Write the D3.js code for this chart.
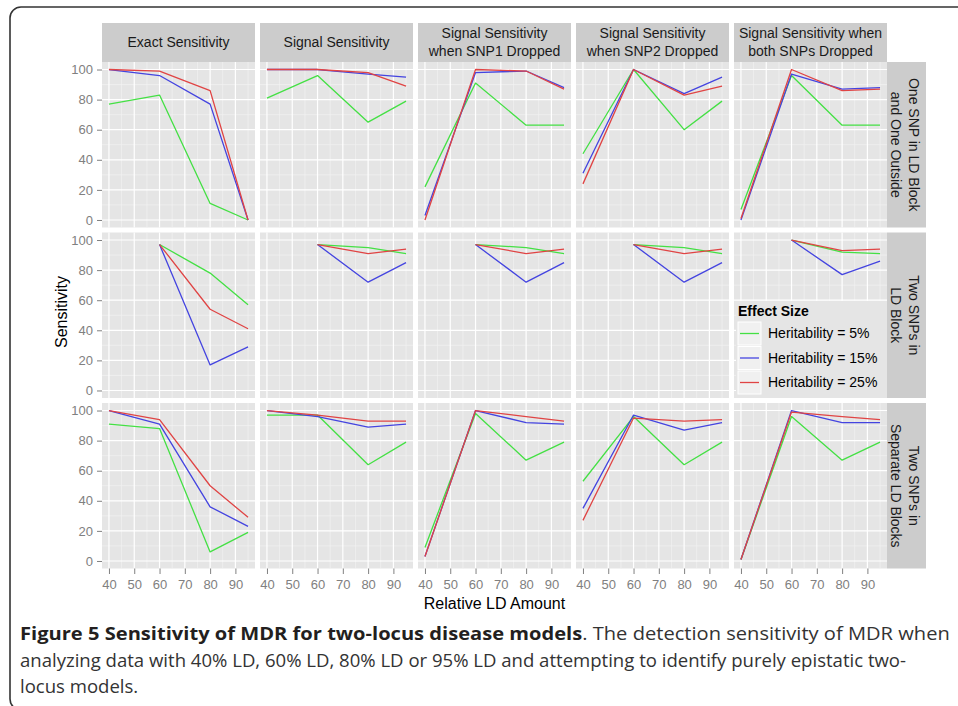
<!DOCTYPE html>
<html><head><meta charset="utf-8">
<script src="https://cdn.jsdelivr.net/npm/d3@7"></script>
<style>body{margin:0;background:#fff}svg{display:block}</style>
</head><body>
<svg id="c" width="958" height="706"></svg>
<script>
// ---------- data ----------
const ldLevels = [40, 60, 80, 95];
const xTicks = [40, 50, 60, 70, 80, 90];
const yTicks = [0, 20, 40, 60, 80, 100];
const columnLabels = ["Exact Sensitivity", "Signal Sensitivity", "Signal Sensitivity\nwhen SNP1 Dropped",
  "Signal Sensitivity\nwhen SNP2 Dropped", "Signal Sensitivity when\nboth SNPs Dropped"];
const rowLabels = ["One SNP in LD Block\nand One Outside", "Two SNPs in\nLD Block", "Two SNPs in\nSeparate LD Blocks"];
const seriesLabels = ["Heritability = 5%", "Heritability = 15%", "Heritability = 25%"];
const seriesColors = ["#44e044", "#4444e0", "#e04444"];

// Row 1: One SNP in LD Block and One Outside (one array per panel, values at 40/60/80/95)
const oneSNP_h5  = [[77, 83, 11, 0], [81, 96, 65, 79], [22, 91, 63, 63], [44, 100, 60, 79], [7, 96, 63, 63]];
const oneSNP_h15 = [[100, 96, 77, 0], [100, 100, 97, 95], [3, 98, 99, 88], [31, 100, 84, 95], [0, 97, 87, 88]];
const oneSNP_h25 = [[100, 99, 86, 0], [100, 100, 98, 89], [0, 100, 99, 87], [24, 100, 83, 89], [1, 100, 86, 87]];
// Row 2: Two SNPs in LD Block (no 40% value)
const twoLD_h5  = [[null, 97, 78, 57], [null, 97, 95, 91], [null, 97, 95, 91], [null, 97, 95, 91], [null, 100, 92, 91]];
const twoLD_h15 = [[null, 97, 17, 29], [null, 97, 72, 85], [null, 97, 72, 85], [null, 97, 72, 85], [null, 100, 77, 86]];
const twoLD_h25 = [[null, 97, 54, 41], [null, 97, 91, 94], [null, 97, 91, 94], [null, 97, 91, 94], [null, 100, 93, 94]];
// Row 3: Two SNPs in Separate LD Blocks
const twoSep_h5  = [[91, 88, 6, 19], [97, 97, 64, 79], [9, 98, 67, 79], [53, 96, 64, 79], [1, 96, 67, 79]];
const twoSep_h15 = [[100, 91, 36, 23], [100, 96, 89, 91], [3, 100, 92, 91], [35, 97, 87, 92], [1, 100, 92, 92]];
const twoSep_h25 = [[100, 94, 50, 29], [100, 97, 93, 93], [3, 100, 96, 93], [27, 95, 93, 94], [1, 99, 96, 94]];

const rowData = [[oneSNP_h5, oneSNP_h15, oneSNP_h25], [twoLD_h5, twoLD_h15, twoLD_h25], [twoSep_h5, twoSep_h15, twoSep_h25]];

const captionBold = "Figure 5 Sensitivity of MDR for two-locus disease models";
const captionLines = [". The detection sensitivity of MDR when",
  "analyzing data with 40% LD, 60% LD, 80% LD or 95% LD and attempting to identify purely epistatic two-",
  "locus models."];

// ---------- layout ----------
const svg = d3.select("#c");
const FONT = "'Liberation Sans', Arial, sans-serif";
const panelLeft = 102, panelW = 153, panelGap = 5;
const panelTop = 62, panelH = 165.5, rowGap = 5;
const stripH = 39, stripW = 39;

const x = d3.scaleLinear().domain([37.25, 97.75]).range([0, panelW]);
const y = d3.scaleLinear().domain([-5, 105]).range([panelH, 0]);
const xMinor = [45, 55, 65, 75, 85, 95];
const yMinor = [10, 30, 50, 70, 90];

// outer frame
svg.append("rect").attr("x", 10).attr("y", 7).attr("width", 1000).attr("height", 703)
  .attr("rx", 11).attr("fill", "none").attr("stroke", "#333").attr("stroke-width", 1.6);

const px = c => panelLeft + c * (panelW + panelGap);
const py = r => panelTop + r * (panelH + rowGap);

// top strips
columnLabels.forEach((lab, c) => {
  const g = svg.append("g").attr("transform", `translate(${px(c)},${panelTop - stripH})`);
  g.append("rect").attr("width", panelW).attr("height", stripH).attr("fill", "#cccccc");
  const lines = lab.split("\n");
  lines.forEach((t, i) => {
    g.append("text").attr("x", panelW / 2).attr("y", stripH / 2 + (i - (lines.length - 1) / 2) * 18)
      .attr("dy", "0.35em").attr("text-anchor", "middle").attr("font-family", FONT)
      .attr("font-size", 14).attr("fill", "#1a1a1a").text(t);
  });
});

// right strips
rowLabels.forEach((lab, r) => {
  const sx = px(4) + panelW;
  const g = svg.append("g").attr("transform", `translate(${sx},${py(r)})`);
  g.append("rect").attr("width", stripW).attr("height", panelH).attr("fill", "#cccccc");
  const lines = lab.split("\n");
  const tg = g.append("g").attr("transform", `translate(${stripW / 2 - 2},${panelH / 2}) rotate(90)`);
  lines.forEach((t, i) => {
    tg.append("text").attr("x", 0).attr("y", (i - (lines.length - 1) / 2) * 18)
      .attr("dy", "0.35em").attr("text-anchor", "middle").attr("font-family", FONT)
      .attr("font-size", 14).attr("fill", "#1a1a1a").text(t);
  });
});

const line = d3.line().defined(d => d.v != null).x(d => x(d.x)).y(d => y(d.v));

for (let r = 0; r < 3; r++) {
  for (let c = 0; c < 5; c++) {
    const g = svg.append("g").attr("transform", `translate(${px(c)},${py(r)})`);
    g.append("rect").attr("width", panelW).attr("height", panelH).attr("fill", "#e5e5e5");
    g.selectAll(".xm").data(xMinor).enter().append("line")
      .attr("x1", d => x(d)).attr("x2", d => x(d)).attr("y1", 0).attr("y2", panelH)
      .attr("stroke", "#f2f2f2").attr("stroke-width", 0.7);
    g.selectAll(".ym").data(yMinor).enter().append("line")
      .attr("y1", d => y(d)).attr("y2", d => y(d)).attr("x1", 0).attr("x2", panelW)
      .attr("stroke", "#f2f2f2").attr("stroke-width", 0.7);
    g.selectAll(".xM").data(xTicks).enter().append("line")
      .attr("x1", d => x(d)).attr("x2", d => x(d)).attr("y1", 0).attr("y2", panelH)
      .attr("stroke", "#ffffff").attr("stroke-width", 1.2);
    g.selectAll(".yM").data(yTicks).enter().append("line")
      .attr("y1", d => y(d)).attr("y2", d => y(d)).attr("x1", 0).attr("x2", panelW)
      .attr("stroke", "#ffffff").attr("stroke-width", 1.2);

    if (r === 1 && c === 4) {
      // legend sits inside this panel
      const lg = g.append("g").attr("transform", `translate(2,${panelH - 97})`);
      lg.append("rect").attr("x", 0).attr("y", 0).attr("width", panelW - 2).attr("height", 97).attr("fill", "#e5e5e5");
    }

    rowData[r].forEach((series, s) => {
      const pts = series[c].map((v, i) => ({ x: ldLevels[i], v }));
      g.append("path").attr("d", line(pts)).attr("fill", "none")
        .attr("stroke", seriesColors[s]).attr("stroke-width", 1.3).attr("stroke-linejoin", "round");
    });

    if (c === 0) {
      const ax = g.append("g").call(d3.axisLeft(y).tickValues(yTicks).tickSize(5).tickPadding(4));
      ax.select(".domain").remove();
      ax.selectAll("line").attr("stroke", "#808080");
      ax.selectAll("text").attr("fill", "#808080").attr("font-size", 13).attr("font-family", FONT);
    }
    if (r === 2) {
      const ax = g.append("g").attr("transform", `translate(0,${panelH})`)
        .call(d3.axisBottom(x).tickValues(xTicks).tickSize(5.5).tickPadding(5.5));
      ax.select(".domain").remove();
      ax.selectAll("line").attr("stroke", "#808080");
      ax.selectAll("text").attr("fill", "#808080").attr("font-size", 13).attr("font-family", FONT);
    }
  }
}

// legend
{
  const lx = px(4) + 4;
  const lg = svg.append("g");
  lg.append("text").attr("x", lx).attr("y", 311).attr("dy", "0.35em").attr("font-family", FONT)
    .attr("font-size", 14).attr("font-weight", "bold").attr("fill", "#000").text("Effect Size");
  seriesLabels.forEach((lab, i) => {
    const cy = 333.5 + i * 24.5;
    lg.append("rect").attr("x", lx).attr("y", cy - 11.5).attr("width", 23).attr("height", 23)
      .attr("fill", "#f0f0f0").attr("stroke", "#ffffff").attr("stroke-width", 1);
    lg.append("line").attr("x1", lx + 2).attr("x2", lx + 21).attr("y1", cy).attr("y2", cy)
      .attr("stroke", seriesColors[i]).attr("stroke-width", 1.3);
    lg.append("text").attr("x", lx + 30).attr("y", cy).attr("dy", "0.35em").attr("font-family", FONT)
      .attr("font-size", 14).attr("fill", "#000").text(lab);
  });
}

// axis titles
svg.append("text").attr("transform", "translate(61,312) rotate(-90)").attr("text-anchor", "middle")
  .attr("dy", "0.35em").attr("font-family", FONT).attr("font-size", 16).attr("fill", "#000").text("Sensitivity");
svg.append("text").attr("x", (panelLeft + px(4) + panelW) / 2).attr("y", 603).attr("text-anchor", "middle")
  .attr("dy", "0.35em").attr("font-family", FONT).attr("font-size", 16).attr("fill", "#000").text("Relative LD Amount");

// caption
{
  const CF = "'Open Sans', 'Noto Sans', sans-serif";
  const ys = [634, 661, 687];
  const t1 = svg.append("text").attr("font-family", CF).attr("font-size", 18).attr("dy", "0.35em").attr("fill", "#333");
  t1.append("tspan").attr("font-weight", "bold").attr("fill", "#231f20").text(captionBold);
  t1.append("tspan").text(captionLines[0]);
  const t2 = svg.append("text").attr("font-family", CF).attr("font-size", 18).attr("dy", "0.35em")
    .attr("fill", "#333").text(captionLines[1]);
  const t3 = svg.append("text").attr("font-family", CF).attr("font-size", 18).attr("dy", "0.35em")
    .attr("fill", "#333").text(captionLines[2]);
  const s1 = 930 / t1.node().getComputedTextLength();
  const s2 = 887 / t2.node().getComputedTextLength();
  t1.attr("transform", `translate(20,${ys[0]}) scale(${s1},1)`);
  t2.attr("transform", `translate(20,${ys[1]}) scale(${s2},1)`);
  t3.attr("transform", `translate(20,${ys[2]}) scale(${s2},1)`);
}
</script>
</body></html>
